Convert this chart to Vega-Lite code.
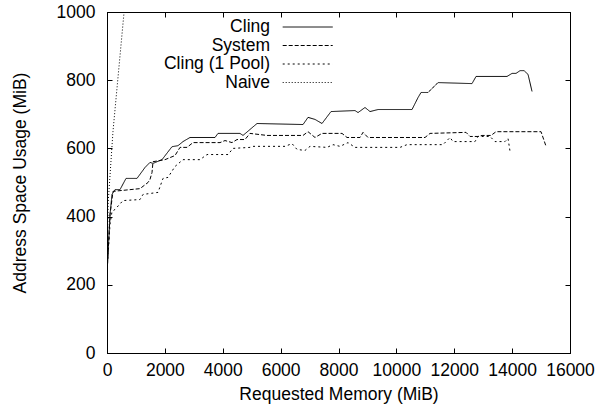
{
  "$schema": "https://vega.github.io/schema/vega-lite/v6.json",
  "width": 463,
  "height": 341,
  "autosize": {"type": "none"},
  "padding": {"left": 107, "top": 12, "right": 38, "bottom": 60},
  "background": "white",
  "config": {
    "font": "Liberation Sans",
    "view": {"stroke": "black", "strokeWidth": 1},
    "axis": {"grid": false, "domainColor": "black", "tickColor": "black", "labelColor": "black", "titleColor": "black"}
  },
  "data": {"values": [
    {"s": "Cling", "x": 17, "y": 260}, {"s": "Cling", "x": 104, "y": 406}, {"s": "Cling", "x": 173, "y": 465}, {"s": "Cling", "x": 276, "y": 479}, {"s": "Cling", "x": 449, "y": 479}, {"s": "Cling", "x": 657, "y": 512}, {"s": "Cling", "x": 1037, "y": 512}, {"s": "Cling", "x": 1313, "y": 544}, {"s": "Cling", "x": 1486, "y": 559}, {"s": "Cling", "x": 1590, "y": 556}, {"s": "Cling", "x": 1901, "y": 567}, {"s": "Cling", "x": 2246, "y": 605}, {"s": "Cling", "x": 2454, "y": 608}, {"s": "Cling", "x": 2627, "y": 620}, {"s": "Cling", "x": 2868, "y": 632}, {"s": "Cling", "x": 3732, "y": 632}, {"s": "Cling", "x": 3836, "y": 644}, {"s": "Cling", "x": 4596, "y": 644}, {"s": "Cling", "x": 4700, "y": 638}, {"s": "Cling", "x": 5184, "y": 673}, {"s": "Cling", "x": 6774, "y": 670}, {"s": "Cling", "x": 6947, "y": 691}, {"s": "Cling", "x": 7188, "y": 685}, {"s": "Cling", "x": 7430, "y": 673}, {"s": "Cling", "x": 7741, "y": 708}, {"s": "Cling", "x": 8571, "y": 711}, {"s": "Cling", "x": 8675, "y": 705}, {"s": "Cling", "x": 8916, "y": 720}, {"s": "Cling", "x": 9089, "y": 708}, {"s": "Cling", "x": 9366, "y": 714}, {"s": "Cling", "x": 10541, "y": 714}, {"s": "Cling", "x": 10748, "y": 749}, {"s": "Cling", "x": 10852, "y": 764}, {"s": "Cling", "x": 11094, "y": 764}, {"s": "Cling", "x": 11439, "y": 793}, {"s": "Cling", "x": 12614, "y": 790}, {"s": "Cling", "x": 12753, "y": 811}, {"s": "Cling", "x": 13824, "y": 811}, {"s": "Cling", "x": 13997, "y": 820}, {"s": "Cling", "x": 14135, "y": 820}, {"s": "Cling", "x": 14273, "y": 828}, {"s": "Cling", "x": 14412, "y": 828}, {"s": "Cling", "x": 14550, "y": 817}, {"s": "Cling", "x": 14688, "y": 767},
    {"s": "System", "x": 17, "y": 260}, {"s": "System", "x": 104, "y": 406}, {"s": "System", "x": 207, "y": 474}, {"s": "System", "x": 1140, "y": 482}, {"s": "System", "x": 1417, "y": 500}, {"s": "System", "x": 1486, "y": 509}, {"s": "System", "x": 1555, "y": 529}, {"s": "System", "x": 1590, "y": 561}, {"s": "System", "x": 2004, "y": 567}, {"s": "System", "x": 2350, "y": 579}, {"s": "System", "x": 2523, "y": 603}, {"s": "System", "x": 2765, "y": 603}, {"s": "System", "x": 2972, "y": 617}, {"s": "System", "x": 3905, "y": 617}, {"s": "System", "x": 4078, "y": 623}, {"s": "System", "x": 4320, "y": 617}, {"s": "System", "x": 4493, "y": 626}, {"s": "System", "x": 4769, "y": 626}, {"s": "System", "x": 4942, "y": 644}, {"s": "System", "x": 5530, "y": 638}, {"s": "System", "x": 6774, "y": 638}, {"s": "System", "x": 6947, "y": 649}, {"s": "System", "x": 7188, "y": 632}, {"s": "System", "x": 7430, "y": 644}, {"s": "System", "x": 8122, "y": 644}, {"s": "System", "x": 8294, "y": 632}, {"s": "System", "x": 8744, "y": 632}, {"s": "System", "x": 8847, "y": 647}, {"s": "System", "x": 9020, "y": 632}, {"s": "System", "x": 10990, "y": 632}, {"s": "System", "x": 11163, "y": 644}, {"s": "System", "x": 12407, "y": 647}, {"s": "System", "x": 12545, "y": 635}, {"s": "System", "x": 12822, "y": 635}, {"s": "System", "x": 12960, "y": 638}, {"s": "System", "x": 13271, "y": 638}, {"s": "System", "x": 13444, "y": 649}, {"s": "System", "x": 14999, "y": 649}, {"s": "System", "x": 15172, "y": 606},
    {"s": "Cling (1 Pool)", "x": 17, "y": 260}, {"s": "Cling (1 Pool)", "x": 104, "y": 377}, {"s": "Cling (1 Pool)", "x": 173, "y": 415}, {"s": "Cling (1 Pool)", "x": 276, "y": 421}, {"s": "Cling (1 Pool)", "x": 553, "y": 447}, {"s": "Cling (1 Pool)", "x": 1140, "y": 450}, {"s": "Cling (1 Pool)", "x": 1244, "y": 465}, {"s": "Cling (1 Pool)", "x": 1763, "y": 471}, {"s": "Cling (1 Pool)", "x": 1935, "y": 512}, {"s": "Cling (1 Pool)", "x": 2108, "y": 515}, {"s": "Cling (1 Pool)", "x": 2350, "y": 547}, {"s": "Cling (1 Pool)", "x": 2627, "y": 567}, {"s": "Cling (1 Pool)", "x": 3214, "y": 567}, {"s": "Cling (1 Pool)", "x": 3456, "y": 582}, {"s": "Cling (1 Pool)", "x": 4182, "y": 582}, {"s": "Cling (1 Pool)", "x": 4355, "y": 600}, {"s": "Cling (1 Pool)", "x": 4942, "y": 603}, {"s": "Cling (1 Pool)", "x": 5046, "y": 606}, {"s": "Cling (1 Pool)", "x": 6152, "y": 606}, {"s": "Cling (1 Pool)", "x": 6394, "y": 614}, {"s": "Cling (1 Pool)", "x": 6566, "y": 597}, {"s": "Cling (1 Pool)", "x": 6843, "y": 594}, {"s": "Cling (1 Pool)", "x": 7016, "y": 606}, {"s": "Cling (1 Pool)", "x": 7603, "y": 603}, {"s": "Cling (1 Pool)", "x": 7811, "y": 611}, {"s": "Cling (1 Pool)", "x": 8052, "y": 606}, {"s": "Cling (1 Pool)", "x": 8329, "y": 617}, {"s": "Cling (1 Pool)", "x": 8571, "y": 603}, {"s": "Cling (1 Pool)", "x": 10126, "y": 603}, {"s": "Cling (1 Pool)", "x": 10368, "y": 611}, {"s": "Cling (1 Pool)", "x": 11612, "y": 611}, {"s": "Cling (1 Pool)", "x": 11854, "y": 632}, {"s": "Cling (1 Pool)", "x": 11958, "y": 620}, {"s": "Cling (1 Pool)", "x": 12718, "y": 620}, {"s": "Cling (1 Pool)", "x": 12822, "y": 635}, {"s": "Cling (1 Pool)", "x": 13236, "y": 635}, {"s": "Cling (1 Pool)", "x": 13409, "y": 620}, {"s": "Cling (1 Pool)", "x": 13755, "y": 620}, {"s": "Cling (1 Pool)", "x": 13859, "y": 629}, {"s": "Cling (1 Pool)", "x": 13928, "y": 591},
    {"s": "Naive", "x": 0, "y": 270}, {"s": "Naive", "x": 40, "y": 440}, {"s": "Naive", "x": 207, "y": 650}, {"s": "Naive", "x": 590, "y": 1000}
  ]},
  "layer": [
    {
      "mark": {"type": "line", "strokeWidth": 1, "color": "black", "clip": true},
      "encoding": {
        "x": {"field": "x", "type": "quantitative", "scale": {"domain": [0, 16000], "nice": false}, "axis": {"values": [0, 2000, 4000, 6000, 8000, 10000, 12000, 14000, 16000], "format": "d", "labelOverlap": false, "labelFlush": false, "tickSize": -5, "labelPadding": 13, "labelFontSize": 17.5, "labelFont": "Liberation Sans", "title": "Requested Memory (MiB)", "titleFontSize": 17.5, "titleFont": "Liberation Sans", "titleFontWeight": "normal", "titlePadding": 7}},
        "y": {"field": "y", "type": "quantitative", "scale": {"domain": [0, 1000], "nice": false}, "axis": {"values": [0, 200, 400, 600, 800, 1000], "format": "d", "labelOverlap": false, "labelFlush": false, "tickSize": -5, "labelPadding": 17, "labelFontSize": 17.5, "labelFont": "Liberation Sans", "title": "Address Space Usage (MiB)", "titleFontSize": 17.5, "titleFont": "Liberation Sans", "titleFontWeight": "normal", "titlePadding": 27}},
        "strokeDash": {"field": "s", "type": "nominal", "scale": {"domain": ["Cling", "System", "Cling (1 Pool)", "Naive"], "range": [[1, 0], [4, 2], [2, 3], [1, 2]]},
          "legend": {"title": null, "orient": "none", "legendX": 175, "legendY": 6, "symbolType": "M-3,0H3", "symbolSize": 278, "labelAlign": "right", "labelOffset": -46.7, "symbolOffset": 16.7, "symbolStrokeWidth": 1, "symbolStrokeColor": "black", "labelFontSize": 17.5, "labelFont": "Liberation Sans", "labelColor": "black", "rowPadding": 0.5, "padding": 0}},
        "order": {"field": "x", "type": "quantitative"}
      }
    },
    {
      "mark": {"type": "line", "strokeOpacity": 0},
      "encoding": {
        "x": {"field": "x", "type": "quantitative", "axis": {"orient": "top", "values": [0, 2000, 4000, 6000, 8000, 10000, 12000, 14000, 16000], "tickSize": -5, "labels": false, "title": null}},
        "y": {"field": "y", "type": "quantitative", "axis": {"orient": "right", "values": [0, 200, 400, 600, 800, 1000], "tickSize": -5, "labels": false, "title": null}}
      }
    }
  ],
  "resolve": {"axis": {"x": "independent", "y": "independent"}}
}
